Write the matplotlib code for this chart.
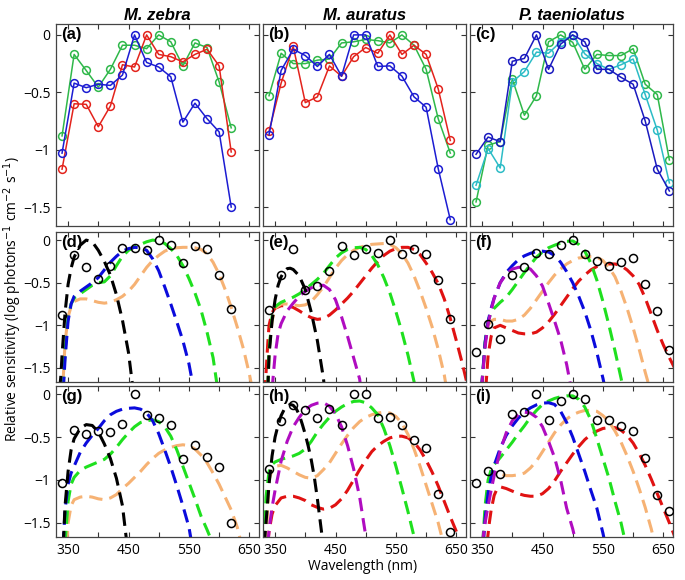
import matplotlib
matplotlib.use('Agg')
import matplotlib.pyplot as plt

plt.rcParams['font.family'] = ['Open Sans', 'DejaVu Sans']
plt.rcParams['axes.unicode_minus'] = True

# ---- measured spectra (top row) ----
zeb_wl = [340, 360, 380, 400, 420, 440, 460, 480, 500, 520, 540, 560, 580, 600, 620]
zeb_green = [-0.88, -0.17, -0.31, -0.455, -0.30, -0.09, -0.09, -0.12, 0.0, -0.06, -0.27, -0.07, -0.11, -0.41, -0.81]
zeb_red = [-1.17, -0.60, -0.605, -0.80, -0.62, -0.26, -0.28, 0.0, -0.17, -0.19, -0.235, -0.17, -0.125, -0.27, -1.02]
zeb_blue = [-1.03, -0.42, -0.46, -0.43, -0.44, -0.35, 0.0, -0.24, -0.28, -0.365, -0.76, -0.595, -0.73, -0.845, -1.50]

aur_wl = [340, 360, 380, 400, 420, 440, 460, 480, 500, 520, 540, 560, 580, 600, 620, 640]
aur_green = [-0.53, -0.16, -0.25, -0.25, -0.22, -0.21, -0.07, -0.06, -0.04, -0.05, -0.07, 0.0, -0.09, -0.30, -0.73, -1.03]
aur_red = [-0.84, -0.42, -0.10, -0.59, -0.54, -0.27, -0.36, -0.19, -0.11, -0.16, 0.0, -0.17, -0.09, -0.17, -0.47, -0.92]
aur_blue = [-0.87, -0.31, -0.125, -0.18, -0.275, -0.17, -0.36, 0.0, 0.0, -0.275, -0.27, -0.36, -0.54, -0.63, -1.165, -1.61]
aur_red_fit = [-0.825, -0.41, -0.105, -0.59, -0.54, -0.36, -0.075, -0.18, -0.105, -0.15, 0.0, -0.165, -0.105, -0.165, -0.47, -0.92]

tae_wl = [340, 360, 380, 400, 420, 440, 460, 480, 500, 520, 540, 560, 580, 600, 620, 640, 660]
tae_blue = [-1.04, -0.89, -0.93, -0.23, -0.205, 0.0, -0.30, -0.08, 0.0, -0.06, -0.30, -0.30, -0.37, -0.43, -0.75, -1.17, -1.36]
tae_cyan = [-1.31, -0.99, -1.16, -0.41, -0.32, -0.15, -0.16, -0.06, 0.0, -0.165, -0.25, -0.30, -0.26, -0.21, -0.52, -0.83, -1.29]
tae_green = [-1.455, -0.96, -0.93, -0.385, -0.70, -0.53, -0.06, 0.0, -0.065, -0.30, -0.17, -0.18, -0.18, -0.12, -0.43, -0.52, -1.09]

# ---- fitted cone templates (nm, log sens) ----
d_uv = [(336, -1.75), (338, -1.6), (340, -1.35), (345, -0.85), (350, -0.52), (355, -0.33), (360, -0.2), (370, -0.06),
        (380, 0.0), (390, -0.02), (400, -0.12), (410, -0.25), (420, -0.41), (430, -0.64), (440, -0.94), (450, -1.32), (457, -1.72)]
d_sws = [(340, -2.0), (345, -1.4), (350, -0.95), (355, -0.75), (360, -0.66), (370, -0.6), (380, -0.55), (390, -0.5),
         (400, -0.44), (410, -0.35), (420, -0.26), (430, -0.19), (440, -0.13), (450, -0.1), (460, -0.085), (470, -0.09),
         (480, -0.12), (490, -0.22), (500, -0.36), (510, -0.55), (520, -0.75), (530, -0.96), (540, -1.18), (550, -1.45), (558, -1.75)]
d_rh2 = [(340, -2.0), (345, -1.3), (350, -0.9), (355, -0.75), (360, -0.68), (370, -0.63), (380, -0.58), (390, -0.53),
         (400, -0.5), (410, -0.49), (420, -0.42), (430, -0.3), (440, -0.19), (450, -0.12), (460, -0.08), (470, -0.05),
         (480, -0.02), (490, 0.0), (500, -0.01), (510, -0.04), (520, -0.1), (530, -0.18), (540, -0.3), (550, -0.45),
         (560, -0.62), (570, -0.82), (580, -1.08), (590, -1.38), (597, -1.72)]
d_lws = [(340, -1.9), (345, -1.2), (350, -0.9), (355, -0.78), (360, -0.72), (370, -0.69), (380, -0.69), (390, -0.71),
         (400, -0.73), (410, -0.74), (420, -0.73), (430, -0.7), (440, -0.66), (450, -0.6), (460, -0.52), (470, -0.42),
         (480, -0.32), (490, -0.24), (500, -0.18), (510, -0.13), (520, -0.1), (530, -0.09), (540, -0.085), (550, -0.085),
         (560, -0.09), (570, -0.11), (580, -0.16), (590, -0.26), (600, -0.4), (610, -0.58), (620, -0.79), (630, -1.02),
         (640, -1.27), (650, -1.57), (655, -1.75)]

g_uv = [(342, -1.75), (345, -1.3), (350, -0.9), (355, -0.65), (360, -0.52), (370, -0.4), (380, -0.355), (390, -0.365),
        (400, -0.44), (410, -0.58), (420, -0.75), (430, -0.98), (440, -1.3), (447, -1.72)]
g_sws = [(340, -2.0), (345, -1.35), (350, -1.05), (355, -0.92), (360, -0.84), (370, -0.68), (380, -0.57), (390, -0.48),
         (400, -0.4), (410, -0.31), (420, -0.24), (430, -0.2), (440, -0.175), (450, -0.165), (460, -0.16), (470, -0.175),
         (480, -0.22), (490, -0.31), (500, -0.46), (510, -0.65), (520, -0.85), (530, -1.07), (540, -1.3), (550, -1.55), (555, -1.75)]
g_rh2 = [(345, -1.75), (350, -1.25), (355, -1.05), (360, -0.97), (370, -0.89), (380, -0.85), (390, -0.82), (400, -0.79),
         (410, -0.76), (420, -0.7), (430, -0.62), (440, -0.53), (450, -0.45), (460, -0.38), (470, -0.33), (480, -0.31),
         (490, -0.3), (500, -0.32), (510, -0.38), (520, -0.49), (530, -0.65), (540, -0.84), (550, -1.03), (560, -1.22),
         (570, -1.42), (580, -1.58), (590, -1.75)]
g_lws = [(348, -1.75), (350, -1.5), (355, -1.3), (360, -1.23), (370, -1.2), (380, -1.19), (390, -1.2), (400, -1.22),
         (410, -1.23), (420, -1.21), (430, -1.17), (440, -1.1), (450, -1.04), (460, -0.97), (470, -0.9), (480, -0.82),
         (490, -0.75), (500, -0.69), (510, -0.65), (520, -0.62), (530, -0.6), (540, -0.59), (550, -0.6), (560, -0.64),
         (570, -0.71), (580, -0.8), (590, -0.92), (600, -1.05), (610, -1.2), (620, -1.35), (630, -1.55), (637, -1.75)]

e_uv = [(338, -1.75), (340, -1.35), (345, -0.95), (350, -0.7), (355, -0.53), (360, -0.43), (365, -0.37), (370, -0.335),
        (375, -0.33), (380, -0.345), (390, -0.42), (400, -0.58), (410, -0.85), (420, -1.18), (430, -1.62), (432, -1.75)]
e_sws = [(345, -1.75), (350, -1.35), (355, -1.1), (360, -0.98), (370, -0.83), (380, -0.74), (390, -0.66), (400, -0.6),
         (410, -0.56), (420, -0.535), (430, -0.53), (440, -0.58), (450, -0.7), (460, -0.9), (470, -1.13), (480, -1.38),
         (490, -1.63), (492, -1.75)]
e_rh2 = [(338, -1.75), (340, -1.3), (345, -0.9), (350, -0.78), (360, -0.73), (370, -0.7), (380, -0.67), (390, -0.63),
         (400, -0.58), (410, -0.52), (420, -0.46), (430, -0.39), (440, -0.3), (450, -0.21), (460, -0.15), (470, -0.11),
         (480, -0.09), (490, -0.085), (500, -0.11), (510, -0.18), (520, -0.29), (530, -0.44), (540, -0.62), (550, -0.84),
         (560, -1.08), (570, -1.35), (580, -1.66), (582, -1.75)]
e_lws1 = [(338, -1.75), (340, -1.3), (345, -0.95), (350, -0.8), (360, -0.75), (370, -0.75), (380, -0.76), (390, -0.77),
          (400, -0.76), (410, -0.72), (420, -0.64), (430, -0.55), (440, -0.44), (450, -0.33), (460, -0.24), (470, -0.17),
          (480, -0.12), (490, -0.085), (500, -0.065), (510, -0.05), (520, -0.045), (530, -0.04), (540, -0.05), (550, -0.09),
          (560, -0.16), (570, -0.27), (580, -0.42), (590, -0.6), (600, -0.8), (610, -1.02), (620, -1.28), (630, -1.58), (634, -1.75)]
e_lws2 = [(333, -1.8), (338, -1.2), (340, -1.0), (345, -0.85), (350, -0.8), (360, -0.77), (370, -0.77), (380, -0.79),
          (390, -0.83), (400, -0.875), (410, -0.91), (420, -0.93), (430, -0.92), (440, -0.88), (450, -0.82), (460, -0.75),
          (470, -0.68), (480, -0.6), (490, -0.51), (500, -0.42), (510, -0.33), (520, -0.25), (530, -0.18), (540, -0.13),
          (550, -0.1), (560, -0.085), (570, -0.085), (580, -0.11), (590, -0.17), (600, -0.27), (610, -0.38), (620, -0.51),
          (630, -0.69), (640, -0.92), (650, -1.18), (660, -1.45), (670, -1.75)]

h_uv = [(332, -1.75), (335, -1.5), (340, -1.05), (345, -0.72), (350, -0.5), (355, -0.36), (360, -0.25), (365, -0.18),
        (370, -0.14), (375, -0.12), (380, -0.13), (385, -0.17), (390, -0.24), (395, -0.35), (400, -0.47), (405, -0.61),
        (410, -0.77), (415, -0.97), (420, -1.22), (425, -1.5), (430, -1.78)]
h_sws = [(338, -1.75), (340, -1.58), (345, -1.32), (350, -1.12), (360, -0.78), (370, -0.55), (380, -0.38), (390, -0.27),
         (400, -0.18), (410, -0.13), (420, -0.105), (430, -0.1), (440, -0.14), (450, -0.23), (460, -0.38), (470, -0.6),
         (480, -0.87), (490, -1.2), (500, -1.65), (502, -1.75)]
h_rh2 = [(332, -1.75), (335, -1.2), (340, -0.9), (345, -0.82), (350, -0.79), (360, -0.76), (370, -0.74), (380, -0.72),
         (390, -0.69), (400, -0.64), (410, -0.55), (420, -0.44), (430, -0.35), (440, -0.27), (450, -0.2), (460, -0.15),
         (470, -0.11), (480, -0.085), (490, -0.08), (500, -0.1), (510, -0.16), (520, -0.24), (530, -0.4), (540, -0.6),
         (550, -0.84), (560, -1.1), (570, -1.37), (580, -1.66), (582, -1.75)]
h_lws1 = [(335, -1.75), (340, -1.0), (345, -0.88), (350, -0.84), (360, -0.83), (370, -0.86), (380, -0.9), (390, -0.94),
          (400, -0.97), (410, -0.98), (420, -0.95), (430, -0.88), (440, -0.8), (450, -0.69), (460, -0.58), (470, -0.48),
          (480, -0.39), (490, -0.32), (500, -0.27), (510, -0.24), (520, -0.22), (530, -0.21), (540, -0.22), (550, -0.26),
          (560, -0.34), (570, -0.47), (580, -0.64), (590, -0.84), (600, -1.06), (610, -1.28), (620, -1.5), (628, -1.72)]
h_lws2 = [(338, -1.75), (340, -1.6), (345, -1.4), (350, -1.3), (360, -1.21), (370, -1.19), (380, -1.19), (390, -1.21),
          (400, -1.24), (410, -1.29), (420, -1.32), (430, -1.34), (440, -1.33), (450, -1.29), (460, -1.22), (470, -1.12),
          (480, -1.0), (490, -0.88), (500, -0.77), (510, -0.67), (520, -0.6), (530, -0.55), (540, -0.51), (550, -0.49),
          (560, -0.49), (570, -0.51), (580, -0.56), (590, -0.65), (600, -0.77), (610, -0.91), (620, -1.07), (630, -1.25),
          (640, -1.43), (650, -1.6), (660, -1.8)]

f_sws1 = [(349, -1.75), (355, -1.25), (360, -0.98), (365, -0.82), (370, -0.68), (380, -0.5), (390, -0.4), (400, -0.34),
          (410, -0.32), (420, -0.315), (430, -0.34), (440, -0.42), (450, -0.54), (460, -0.74), (470, -0.95), (480, -1.17),
          (490, -1.46), (497, -1.72)]
f_sws2 = [(349, -1.75), (355, -1.2), (360, -0.95), (365, -0.8), (370, -0.68), (380, -0.5), (390, -0.38), (400, -0.3),
          (410, -0.23), (420, -0.185), (430, -0.155), (440, -0.135), (450, -0.13), (460, -0.14), (470, -0.18), (480, -0.26),
          (490, -0.37), (500, -0.5), (510, -0.66), (520, -0.84), (530, -1.06), (540, -1.32), (550, -1.62), (553, -1.72)]
f_rh2 = [(349, -1.75), (355, -1.2), (360, -0.95), (365, -0.85), (370, -0.8), (380, -0.73), (390, -0.67), (400, -0.58),
         (410, -0.48), (420, -0.38), (430, -0.29), (440, -0.2), (450, -0.14), (460, -0.09), (470, -0.06), (480, -0.035),
         (490, -0.015), (500, -0.01), (510, -0.05), (520, -0.13), (530, -0.27), (540, -0.47), (550, -0.72), (560, -1.0),
         (570, -1.3), (580, -1.62), (583, -1.72)]
f_lws1 = [(350, -1.75), (355, -1.2), (360, -1.0), (365, -0.95), (370, -0.93), (380, -0.93), (390, -0.95), (400, -0.95),
          (410, -0.93), (420, -0.88), (430, -0.8), (440, -0.7), (450, -0.6), (460, -0.5), (470, -0.41), (480, -0.34),
          (490, -0.28), (500, -0.24), (510, -0.21), (520, -0.2), (530, -0.195), (540, -0.2), (550, -0.24), (560, -0.32),
          (570, -0.43), (580, -0.6), (590, -0.8), (600, -1.03), (610, -1.28), (620, -1.55), (628, -1.75)]
f_lws2 = [(356, -1.75), (360, -1.35), (365, -1.13), (370, -1.03), (380, -1.0), (390, -1.03), (400, -1.06), (410, -1.09),
          (420, -1.1), (430, -1.1), (440, -1.08), (450, -1.03), (460, -0.96), (470, -0.87), (480, -0.77), (490, -0.67),
          (500, -0.57), (510, -0.48), (520, -0.41), (530, -0.35), (540, -0.31), (550, -0.29), (560, -0.28), (570, -0.28),
          (580, -0.3), (590, -0.35), (600, -0.42), (610, -0.52), (620, -0.68), (630, -0.87), (640, -1.06), (650, -1.23),
          (660, -1.38), (670, -1.52)]

i_sws1 = [(350, -1.75), (355, -1.5), (360, -1.3), (365, -1.12), (370, -0.95), (375, -0.8), (380, -0.66), (390, -0.45),
          (400, -0.31), (410, -0.24), (420, -0.21), (430, -0.22), (440, -0.27), (450, -0.38), (460, -0.55), (470, -0.74),
          (480, -1.0), (490, -1.33), (500, -1.57), (505, -1.72)]
i_sws2 = [(352, -1.75), (355, -1.45), (360, -1.15), (365, -0.97), (370, -0.83), (380, -0.63), (390, -0.48), (400, -0.37),
          (410, -0.28), (420, -0.21), (430, -0.16), (440, -0.125), (450, -0.105), (460, -0.1), (470, -0.12), (480, -0.2),
          (490, -0.33), (500, -0.5), (510, -0.7), (520, -0.9), (530, -1.12), (540, -1.33), (550, -1.62), (553, -1.72)]
i_rh2 = [(351, -1.75), (355, -1.3), (360, -1.0), (365, -0.88), (370, -0.82), (380, -0.74), (390, -0.65), (400, -0.56),
         (410, -0.46), (420, -0.37), (430, -0.27), (440, -0.19), (450, -0.12), (460, -0.08), (470, -0.05), (480, -0.03),
         (490, -0.02), (500, -0.02), (510, -0.06), (520, -0.15), (530, -0.3), (540, -0.52), (550, -0.75), (560, -0.98),
         (570, -1.25), (580, -1.5), (587, -1.72)]
i_lws1 = [(352, -1.75), (355, -1.35), (360, -1.05), (365, -0.95), (370, -0.92), (380, -0.93), (390, -0.95), (400, -0.95),
          (410, -0.94), (420, -0.92), (430, -0.86), (440, -0.78), (450, -0.67), (460, -0.56), (470, -0.45), (480, -0.36),
          (490, -0.29), (500, -0.24), (510, -0.21), (520, -0.19), (530, -0.19), (540, -0.2), (550, -0.25), (560, -0.32),
          (570, -0.43), (580, -0.56), (590, -0.72), (600, -0.9), (610, -1.1), (620, -1.32), (630, -1.57), (636, -1.75)]
i_lws2 = [(358, -1.75), (362, -1.5), (365, -1.35), (370, -1.18), (375, -1.1), (380, -1.08), (390, -1.1), (400, -1.13),
          (410, -1.16), (420, -1.18), (430, -1.19), (440, -1.19), (450, -1.16), (460, -1.1), (470, -1.01), (480, -0.9),
          (490, -0.8), (500, -0.7), (510, -0.61), (520, -0.53), (530, -0.47), (540, -0.43), (550, -0.4), (560, -0.39),
          (570, -0.39), (580, -0.42), (590, -0.48), (600, -0.57), (610, -0.69), (620, -0.83), (630, -0.99), (640, -1.16),
          (650, -1.33), (660, -1.5), (670, -1.68)]

species = ['M. zebra', 'M. auratus', 'P. taeniolatus']

# colours
C_GREEN = '#2fb84a'
C_RED = '#e3231c'
C_BLUE = '#1c1cd2'
C_NAVY = '#1a1abf'
C_CYAN = '#2cbcc6'
K = 'black'
BL = '#0b0bdc'
GR = '#1fe01f'
TAN = '#f6b274'
PU = '#b00cc0'
RD = '#e01212'

W, H = 685, 580
fig = plt.figure(figsize=(W / 100, H / 100), dpi=100)

col_x = [56, 263, 470]
col_w = 203
row_y = [(24, 226), (232, 382), (386, 537)]

axes = []
for r, (top, bot) in enumerate(row_y):
    row = []
    for c, x0 in enumerate(col_x):
        ax = fig.add_axes([x0 / W, 1 - bot / H, col_w / W, (bot - top) / H])
        row.append(ax)
    axes.append(row)

# top row: measured spectra
top_sets = [
    (zeb_wl, [(zeb_green, C_GREEN), (zeb_red, C_RED), (zeb_blue, C_BLUE)]),
    (aur_wl, [(aur_green, C_GREEN), (aur_red, C_RED), (aur_blue, C_BLUE)]),
    (tae_wl, [(tae_green, C_GREEN), (tae_cyan, C_CYAN), (tae_blue, C_NAVY)]),
]
for ax, (wl, series) in zip(axes[0], top_sets):
    for vals, col in series:
        ax.plot(wl, vals, '-o', color=col, mfc='none', ms=5.6, mew=1.1, lw=1.1)

# fit panels
fit_sets = [
    [(zeb_wl, zeb_green, [(d_lws, TAN), (d_rh2, GR), (d_sws, BL), (d_uv, K)]),
     (aur_wl, aur_red_fit, [(e_lws2, RD), (e_lws1, TAN), (e_rh2, GR), (e_sws, PU), (e_uv, K)]),
     (tae_wl, tae_cyan, [(f_lws2, RD), (f_lws1, TAN), (f_rh2, GR), (f_sws2, BL), (f_sws1, PU)])],
    [(zeb_wl, zeb_blue, [(g_lws, TAN), (g_rh2, GR), (g_sws, BL), (g_uv, K)]),
     (aur_wl, aur_blue, [(h_lws2, RD), (h_lws1, TAN), (h_rh2, GR), (h_sws, PU), (h_uv, K)]),
     (tae_wl, tae_blue, [(i_lws2, RD), (i_lws1, TAN), (i_rh2, GR), (i_sws2, BL), (i_sws1, PU)])],
]
for r in range(2):
    for c in range(3):
        ax = axes[r + 1][c]
        wl, pts, curves = fit_sets[r][c]
        for curve, col in curves:
            xs, ys = zip(*curve)
            ax.plot(xs, ys, color=col, lw=2.2, ls=(0, (4.4, 2.3)))
        ax.plot(wl, pts, 'o', color='black', mfc='none', ms=5.8, mew=1.1, zorder=5)

letters = 'abcdefghi'
for r in range(3):
    for c in range(3):
        ax = axes[r][c]
        ax.set_xlim(330, 666)
        ax.set_ylim(-1.665, 0.095)
        ax.set_xticks([350, 400, 450, 500, 550, 600, 650])
        ax.set_yticks([0, -0.5, -1, -1.5])
        ax.tick_params(direction='in', top=True, right=True, length=3.5, width=0.8,
                       colors='#333333', labelcolor='black', labelsize=10, pad=4)
        for sp in ax.spines.values():
            sp.set_color('#444444')
            sp.set_linewidth(0.9)
        if r == 2:
            ax.set_xticklabels(['350', '', '450', '', '550', '', '650'])
        else:
            ax.set_xticklabels([])
        if c == 0:
            ax.set_yticklabels(['0', '\u22120.5', '\u22121', '\u22121.5'])
        else:
            ax.set_yticklabels([])
        ax.annotate('(%s)' % letters[r * 3 + c], xy=(0, 1), xycoords='axes fraction',
                    xytext=(3.5, -2.5), textcoords='offset points', ha='left', va='top',
                    fontsize=12, fontweight='bold', family='Liberation Sans')

for ax, name in zip(axes[0], species):
    ax.set_title(name, fontsize=12, fontweight='bold', fontstyle='italic',
                 family='Liberation Sans', pad=3)

fig.text(0.018, 0.484, 'Relative sensitivity (log photons$^{-1}$ cm$^{-2}$ s$^{-1}$)',
         rotation=90, ha='center', va='center', fontsize=10)
fig.text(0.53, 0.024, 'Wavelength (nm)', ha='center', va='center', fontsize=10)

fig.savefig('out.png', dpi=100)
